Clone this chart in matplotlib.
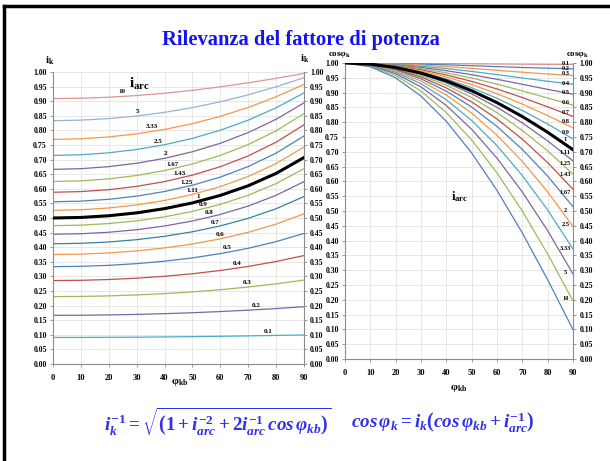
import numpy as np
import matplotlib
matplotlib.use("Agg")
import matplotlib.pyplot as plt
from matplotlib.ticker import FormatStrFormatter, MultipleLocator

# angle of the load (degrees)
phi = [0, 10, 20, 30, 40, 50, 60, 70, 80, 90]
i_arc = ["0.1", "0.2", "0.3", "0.4", "0.5", "0.6", "0.7", "0.8", "0.9", "1",
         "1.11", "1.25", "1.43", "1.67", "2", "2.5", "3.33", "5", "10"]

# left panel: i_k
ik_01 = [0.0909, 0.0910, 0.0914, 0.0919, 0.0927, 0.0937, 0.0949, 0.0963, 0.0978, 0.0995]
ik_02 = [0.1667, 0.1670, 0.1681, 0.1699, 0.1724, 0.1756, 0.1796, 0.1844, 0.1899, 0.1961]
ik_03 = [0.2308, 0.2314, 0.2333, 0.2365, 0.2410, 0.2470, 0.2545, 0.2636, 0.2745, 0.2873]
ik_04 = [0.2857, 0.2866, 0.2893, 0.2939, 0.3004, 0.3091, 0.3203, 0.3341, 0.3510, 0.3714]
ik_05 = [0.3333, 0.3345, 0.3379, 0.3437, 0.3521, 0.3634, 0.3780, 0.3963, 0.4191, 0.4472]
ik_06 = [0.3750, 0.3763, 0.3804, 0.3874, 0.3974, 0.4110, 0.4286, 0.4509, 0.4791, 0.5145]
ik_07 = [0.4118, 0.4133, 0.4179, 0.4258, 0.4373, 0.4528, 0.4730, 0.4989, 0.5317, 0.5735]
ik_08 = [0.4444, 0.4461, 0.4512, 0.4599, 0.4726, 0.4897, 0.5121, 0.5409, 0.5777, 0.6247]
ik_09 = [0.4737, 0.4755, 0.4810, 0.4903, 0.5040, 0.5225, 0.5467, 0.5779, 0.6178, 0.6690]
ik_1 = [0.5000, 0.5019, 0.5077, 0.5176, 0.5321, 0.5517, 0.5774, 0.6104, 0.6527, 0.7071]
ik_111 = [0.5263, 0.5283, 0.5344, 0.5448, 0.5600, 0.5806, 0.6075, 0.6421, 0.6864, 0.7433]
ik_125 = [0.5556, 0.5577, 0.5640, 0.5749, 0.5907, 0.6122, 0.6402, 0.6762, 0.7221, 0.7809]
ik_143 = [0.5882, 0.5904, 0.5970, 0.6083, 0.6247, 0.6469, 0.6757, 0.7127, 0.7596, 0.8192]
ik_167 = [0.6250, 0.6272, 0.6340, 0.6456, 0.6624, 0.6850, 0.7143, 0.7516, 0.7985, 0.8575]
ik_2 = [0.6667, 0.6689, 0.6758, 0.6875, 0.7043, 0.7269, 0.7559, 0.7926, 0.8381, 0.8944]
ik_25 = [0.7143, 0.7165, 0.7233, 0.7347, 0.7510, 0.7728, 0.8006, 0.8352, 0.8774, 0.9285]
ik_333 = [0.7692, 0.7713, 0.7776, 0.7882, 0.8033, 0.8232, 0.8482, 0.8787, 0.9151, 0.9578]
ik_5 = [0.8333, 0.8351, 0.8404, 0.8493, 0.8618, 0.8780, 0.8980, 0.9218, 0.9494, 0.9806]
ik_10 = [0.9091, 0.9102, 0.9137, 0.9193, 0.9272, 0.9372, 0.9492, 0.9630, 0.9784, 0.9950]

# right panel: cos(phi_k)
cos_01 = [1.0, 0.9999, 0.9995, 0.9990, 0.9982, 0.9974, 0.9966, 0.9959, 0.9954, 0.9950]
cos_02 = [1.0, 0.9996, 0.9983, 0.9964, 0.9939, 0.9909, 0.9878, 0.9849, 0.9824, 0.9806]
cos_03 = [1.0, 0.9992, 0.9968, 0.9930, 0.9879, 0.9819, 0.9754, 0.9688, 0.9628, 0.9578]
cos_04 = [1.0, 0.9988, 0.9951, 0.9891, 0.9812, 0.9716, 0.9608, 0.9494, 0.9384, 0.9285]
cos_05 = [1.0, 0.9983, 0.9933, 0.9851, 0.9741, 0.9605, 0.9449, 0.9281, 0.9109, 0.8944]
cos_06 = [1.0, 0.9979, 0.9915, 0.9811, 0.9668, 0.9492, 0.9286, 0.9058, 0.8817, 0.8575]
cos_07 = [1.0, 0.9974, 0.9897, 0.9771, 0.9597, 0.9379, 0.9123, 0.8833, 0.8519, 0.8192]
cos_08 = [1.0, 0.9970, 0.9880, 0.9732, 0.9528, 0.9270, 0.8963, 0.8612, 0.8224, 0.7809]
cos_09 = [1.0, 0.9966, 0.9864, 0.9695, 0.9461, 0.9164, 0.8808, 0.8397, 0.7937, 0.7433]
cos_1 = [1.0, 0.9962, 0.9848, 0.9659, 0.9397, 0.9063, 0.8660, 0.8192, 0.7660, 0.7071]
cos_111 = [1.0, 0.9958, 0.9832, 0.9622, 0.9330, 0.8957, 0.8504, 0.7975, 0.7369, 0.6690]
cos_125 = [1.0, 0.9953, 0.9812, 0.9578, 0.9251, 0.8832, 0.8322, 0.7722, 0.7031, 0.6247]
cos_143 = [1.0, 0.9947, 0.9789, 0.9526, 0.9158, 0.8686, 0.8109, 0.7426, 0.6636, 0.5735]
cos_167 = [1.0, 0.9941, 0.9762, 0.9465, 0.9048, 0.8513, 0.7857, 0.7080, 0.6178, 0.5145]
cos_2 = [1.0, 0.9932, 0.9729, 0.9391, 0.8919, 0.8307, 0.7559, 0.6673, 0.5646, 0.4472]
cos_25 = [1.0, 0.9922, 0.9689, 0.9301, 0.8757, 0.8059, 0.7206, 0.6197, 0.5033, 0.3714]
cos_333 = [1.0, 0.9910, 0.9640, 0.9191, 0.8564, 0.7761, 0.6786, 0.5641, 0.4334, 0.2873]
cos_5 = [1.0, 0.9894, 0.9578, 0.9054, 0.8325, 0.7400, 0.6286, 0.4997, 0.3547, 0.1961]
cos_10 = [1.0, 0.9874, 0.9499, 0.8881, 0.8030, 0.6961, 0.5695, 0.4257, 0.2677, 0.0995]

ik_series = [ik_01, ik_02, ik_03, ik_04, ik_05, ik_06, ik_07, ik_08, ik_09, ik_1,
             ik_111, ik_125, ik_143, ik_167, ik_2, ik_25, ik_333, ik_5, ik_10]
cos_series = [cos_01, cos_02, cos_03, cos_04, cos_05, cos_06, cos_07, cos_08, cos_09, cos_1,
              cos_111, cos_125, cos_143, cos_167, cos_2, cos_25, cos_333, cos_5, cos_10]

# styling
BL, RD, GR, PU, TE, OR = "#4F81BD", "#C0504D", "#9BBB59", "#8064A2", "#4BACC6", "#F79646"
left_colors = [TE, PU, GR, RD, BL, OR, "#31859C", PU, GR, "black",
               OR, BL, RD, GR, PU, TE, OR, "#95B3D7", "#D99694"]
right_colors = ["#D99694", BL, OR, TE, PU, GR, RD, OR, TE, "black",
                PU, GR, RD, BL, OR, TE, PU, GR, BL]
left_lab_x = [77, 73, 69.5, 66, 62.5, 60, 58, 56, 54, 52,
              50, 48, 45.5, 42.7, 40.4, 37.6, 35.5, 30.4, 24.7]
right_lab_y = [0.997, 0.983, 0.966, 0.932, 0.899, 0.865, 0.834, 0.801, 0.764, 0.740,
               0.699, 0.662, 0.622, 0.564, 0.503, 0.453, 0.372, 0.291, 0.203]

plt.rcParams["font.family"] = "Liberation Serif"
plt.rcParams["font.weight"] = "bold"
plt.rcParams["mathtext.fontset"] = "custom"
plt.rcParams["mathtext.rm"] = "Liberation Serif:bold"
plt.rcParams["mathtext.bf"] = "Liberation Serif:bold"
plt.rcParams["mathtext.it"] = "Liberation Serif:bold:italic"

W, H = 610, 461
fig = plt.figure(figsize=(W / 100, H / 100), dpi=100)


def fx(x, y):
    return x / W, 1 - y / H


def setup(ax):
    ax.set_xlim(0, 90)
    ax.set_ylim(0, 1)
    ax.xaxis.set_major_locator(MultipleLocator(10))
    ax.yaxis.set_major_locator(MultipleLocator(0.05))
    ax.yaxis.set_major_formatter(FormatStrFormatter("%.2f"))
    ax.grid(color="#E3E3E3", lw=0.6)
    ax.set_axisbelow(True)
    for s in ["left", "right", "bottom"]:
        ax.spines[s].set_color("#8C8C8C")
        ax.spines[s].set_linewidth(0.8)
    ax.spines["top"].set_visible(False)
    ax.tick_params(axis="y", which="both", left=True, right=True, labelleft=True,
                   labelright=True, length=2.5, width=0.6, color="#8C8C8C",
                   labelsize=5.6, pad=2)
    ax.tick_params(axis="x", length=2.5, width=0.6, color="#8C8C8C", labelsize=6, pad=5)


# frame of the slide
fig.add_artist(plt.Line2D([4 / W, 4 / W], [0, 1 - 6 / H], color="black", lw=2.5))
fig.add_artist(plt.Line2D([4 / W, 1], [1 - 6 / H, 1 - 6 / H], color="black", lw=2.5))

fig.text(*fx(301, 40), "Rilevanza del fattore di potenza", color="#1414F0",
         fontsize=14.8, ha="center", va="center")

# left panel
ax1 = fig.add_axes([53 / W, 1 - 364 / H, 251 / W, 292 / H])
setup(ax1)
for name, vals, col, lx in zip(i_arc, ik_series, left_colors, left_lab_x):
    lw = 2.2 if name == "1" else 0.9
    ax1.plot(phi, vals, color=col, lw=lw, zorder=3 if name == "1" else 2)
    ly = np.interp(lx, phi, vals)
    ax1.annotate(name, (lx, ly), xytext=(0, 3.2), textcoords="offset points",
                 ha="center", va="center", fontsize=5)

# right panel
ax2 = fig.add_axes([345 / W, 1 - 359 / H, 228 / W, 296 / H])
setup(ax2)
for name, vals, col, ly in zip(i_arc, cos_series, right_colors, right_lab_y):
    lw = 2.2 if name == "1" else 0.9
    ax2.plot(phi, vals, color=col, lw=lw, zorder=3 if name == "1" else 2)
    ax2.text(87.0, ly, name, ha="center", va="center", fontsize=4.6)

# axis captions
fig.text(*fx(50, 61), r"$\mathbf{i_k}$", fontsize=8, ha="center", va="center")
fig.text(*fx(305, 59), r"$\mathbf{i_k}$", fontsize=8, ha="center", va="center")
fig.text(*fx(340, 55), r"$\mathbf{cos\varphi_k}$", fontsize=6.5, ha="center", va="center")
fig.text(*fx(578, 55), r"$\mathbf{cos\varphi_k}$", fontsize=6.5, ha="center", va="center")
fig.text(*fx(180, 382), r"$\mathbf{\varphi_{kb}}$", fontsize=8, ha="center", va="center")
fig.text(*fx(459, 388), r"$\mathbf{\varphi_{kb}}$", fontsize=8, ha="center", va="center")
fig.text(*fx(139, 84), r"$\mathbf{i_{arc}}$", fontsize=11, ha="center", va="center")
fig.text(*fx(460, 197), r"$\mathbf{i_{arc}}$", fontsize=9, ha="center", va="center")

# formulas
fig.text(*fx(218, 422),
         r"$i_k^{-1} = \sqrt{\left(1 + i_{arc}^{-2} + 2i_{arc}^{-1}\,cos\,\varphi_{kb}\right)}$",
         color="#3030F0", fontsize=13.8, ha="center", va="center")
fig.text(*fx(443, 422),
         r"$cos\,\varphi_k = i_k\left(cos\,\varphi_{kb} + i_{arc}^{-1}\right)$",
         color="#3030F0", fontsize=13.8, ha="center", va="center")

fig.savefig("out.png", dpi=100, facecolor="white")
